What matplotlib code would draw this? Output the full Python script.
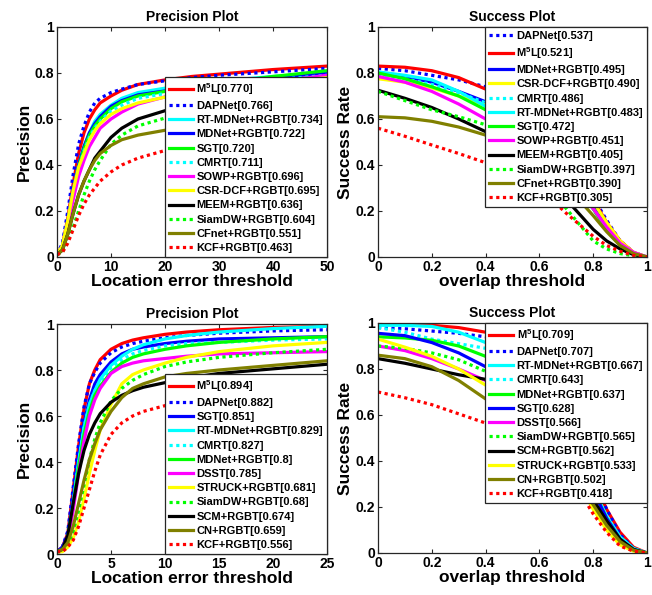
import numpy as np
import matplotlib
matplotlib.use('Agg')
import matplotlib.pyplot as plt
from matplotlib.ticker import FuncFormatter

plt.rcParams['font.family'] = ['Liberation Sans', 'DejaVu Sans']
plt.rcParams['font.weight'] = 'bold'
plt.rcParams['mathtext.fontset'] = 'custom'
plt.rcParams['mathtext.bf'] = 'Liberation Sans:bold'
plt.rcParams['mathtext.rm'] = 'Liberation Sans:bold'
plt.rcParams['mathtext.default'] = 'bf'

# colours / line styles per tracker
RED, BLUE, CYAN, GREEN = '#FF0000', '#0000FF', '#00FFFF', '#00FF00'
MAG, YEL, BLK, OLV = '#FF00FF', '#FFFF00', '#000000', '#808000'
M5L = r'M$^5$L'

# ---------------- top row: precision (0..50) ----------------
prec1_x = [0, 1, 2, 3, 4, 5, 6, 7, 8, 10, 12, 15, 20, 25, 30, 40, 50]
prec1_names = [M5L + '[0.770]', 'DAPNet[0.766]', 'RT-MDNet+RGBT[0.734]', 'MDNet+RGBT[0.722]',
               'SGT[0.720]', 'CMRT[0.711]', 'SOWP+RGBT[0.696]', 'CSR-DCF+RGBT[0.695]',
               'MEEM+RGBT[0.636]', 'SiamDW+RGBT[0.604]', 'CFnet+RGBT[0.551]', 'KCF+RGBT[0.463]']
prec1_styles = [(RED, '-'), (BLUE, ':'), (CYAN, '-'), (BLUE, '-'), (GREEN, '-'), (CYAN, ':'),
                (MAG, '-'), (YEL, '-'), (BLK, '-'), (GREEN, ':'), (OLV, '-'), (RED, ':')]
prec1_m5l = [.01, .05, .17, .32, .45, .54, .60, .64, .67, .70, .725, .75, .770, .785, .795, .815, .83]
prec1_dapnet = [.01, .06, .20, .36, .49, .57, .63, .67, .69, .715, .73, .75, .766, .78, .79, .805, .82]
prec1_rtmdnet = [.01, .04, .15, .29, .40, .48, .54, .59, .62, .66, .69, .715, .734, .75, .765, .785, .80]
prec1_mdnet = [.01, .04, .15, .29, .40, .48, .54, .58, .61, .655, .68, .705, .722, .74, .755, .78, .80]
prec1_sgt = [.01, .04, .14, .28, .39, .47, .53, .57, .60, .645, .675, .70, .720, .74, .755, .785, .81]
prec1_cmrt = [.01, .04, .14, .27, .38, .46, .52, .56, .59, .635, .66, .69, .711, .73, .745, .77, .79]
prec1_sowp = [.01, .04, .13, .25, .35, .42, .48, .52, .56, .60, .63, .665, .696, .715, .73, .76, .79]
prec1_csrdcf = [.01, .05, .16, .29, .39, .45, .51, .55, .58, .62, .645, .67, .695, .715, .73, .755, .78]
prec1_meem = [.01, .03, .10, .19, .27, .33, .38, .43, .46, .52, .56, .60, .636, .655, .67, .70, .73]
prec1_siamdw = [.01, .02, .07, .13, .20, .27, .33, .38, .42, .49, .53, .57, .604, .62, .635, .655, .67]
prec1_cfnet = [.01, .03, .10, .19, .27, .33, .38, .42, .45, .485, .51, .53, .551, .565, .575, .59, .60]
prec1_kcf = [.01, .02, .06, .12, .18, .23, .27, .30, .33, .37, .40, .43, .463, .49, .51, .55, .58]
prec1_y = [prec1_m5l, prec1_dapnet, prec1_rtmdnet, prec1_mdnet, prec1_sgt, prec1_cmrt,
           prec1_sowp, prec1_csrdcf, prec1_meem, prec1_siamdw, prec1_cfnet, prec1_kcf]

# ---------------- top row: success ----------------
succ_x = [0, .1, .2, .3, .4, .5, .6, .7, .8, .85, .9, .95, 1]
succ1_names = ['DAPNet[0.537]', M5L + '[0.521]', 'MDNet+RGBT[0.495]', 'CSR-DCF+RGBT[0.490]',
               'CMRT[0.486]', 'RT-MDNet+RGBT[0.483]', 'SGT[0.472]', 'SOWP+RGBT[0.451]',
               'MEEM+RGBT[0.405]', 'SiamDW+RGBT[0.397]', 'CFnet+RGBT[0.390]', 'KCF+RGBT[0.305]']
succ1_styles = [(BLUE, ':'), (RED, '-'), (BLUE, '-'), (YEL, '-'), (CYAN, ':'), (CYAN, '-'),
                (GREEN, '-'), (MAG, '-'), (BLK, '-'), (GREEN, ':'), (OLV, '-'), (RED, ':')]
succ1_dapnet = [.82, .81, .79, .77, .74, .69, .60, .46, .26, .16, .07, .02, 0]
succ1_m5l = [.83, .825, .81, .78, .73, .67, .58, .44, .25, .15, .07, .02, 0]
succ1_mdnet = [.80, .785, .76, .72, .675, .61, .52, .39, .22, .13, .06, .015, 0]
succ1_csrdcf = [.775, .76, .735, .70, .66, .60, .52, .40, .24, .15, .07, .02, 0]
succ1_cmrt = [.79, .775, .75, .715, .67, .60, .51, .38, .21, .12, .055, .015, 0]
succ1_rtmdnet = [.805, .79, .77, .72, .655, .59, .50, .37, .21, .12, .055, .015, 0]
succ1_sgt = [.80, .775, .74, .70, .64, .57, .49, .37, .21, .12, .05, .015, 0]
succ1_sowp = [.785, .76, .72, .665, .60, .53, .46, .35, .21, .13, .06, .02, 0]
succ1_meem = [.725, .69, .65, .60, .545, .48, .38, .25, .12, .07, .035, .01, 0]
succ1_siamdw = [.72, .68, .64, .61, .575, .50, .37, .21, .07, .035, .015, .005, 0]
succ1_cfnet = [.61, .605, .59, .565, .53, .48, .41, .31, .18, .11, .05, .015, 0]
succ1_kcf = [.56, .525, .487, .45, .41, .36, .30, .19, .09, .05, .025, .007, 0]
succ1_y = [succ1_dapnet, succ1_m5l, succ1_mdnet, succ1_csrdcf, succ1_cmrt, succ1_rtmdnet,
           succ1_sgt, succ1_sowp, succ1_meem, succ1_siamdw, succ1_cfnet, succ1_kcf]

# ---------------- bottom row: precision (0..25) ----------------
prec2_x = [0, .5, 1, 1.5, 2, 2.5, 3, 3.5, 4, 5, 6, 7, 8, 10, 12, 15, 20, 25]
prec2_names = [M5L + '[0.894]', 'DAPNet[0.882]', 'SGT[0.851]', 'RT-MDNet+RGBT[0.829]',
               'CMRT[0.827]', 'MDNet+RGBT[0.8]', 'DSST[0.785]', 'STRUCK+RGBT[0.681]',
               'SiamDW+RGBT[0.68]', 'SCM+RGBT[0.674]', 'CN+RGBT[0.659]', 'KCF+RGBT[0.556]']
prec2_styles = [(RED, '-'), (BLUE, ':'), (BLUE, '-'), (CYAN, '-'), (CYAN, ':'), (GREEN, '-'),
                (MAG, '-'), (YEL, '-'), (GREEN, ':'), (BLK, '-'), (OLV, '-'), (RED, ':')]
prec2_m5l = [.01, .03, .09, .28, .47, .63, .74, .80, .845, .89, .915, .93, .94, .955, .965, .975, .985, .99]
prec2_dapnet = [.01, .03, .10, .29, .48, .64, .74, .79, .83, .875, .90, .915, .925, .94, .95, .96, .97, .975]
prec2_sgt = [.01, .03, .08, .25, .43, .57, .67, .74, .78, .835, .87, .89, .90, .915, .925, .935, .94, .945]
prec2_rtmdnet = [.01, .02, .07, .22, .40, .55, .65, .71, .76, .82, .86, .89, .91, .935, .95, .965, .98, .99]
prec2_cmrt = [.01, .02, .07, .22, .40, .55, .65, .71, .75, .81, .845, .87, .885, .905, .915, .92, .93, .935]
prec2_mdnet = [.01, .02, .07, .21, .38, .52, .62, .69, .73, .79, .83, .855, .87, .89, .905, .92, .935, .945]
prec2_dsst = [.01, .02, .06, .19, .35, .49, .60, .67, .72, .785, .815, .83, .84, .85, .86, .87, .875, .88]
prec2_struck = [.01, .01, .03, .07, .14, .24, .35, .45, .54, .65, .74, .78, .80, .83, .855, .88, .905, .92]
prec2_siamdw = [.01, .01, .04, .10, .19, .30, .41, .50, .57, .665, .72, .755, .78, .815, .835, .855, .875, .89]
prec2_scm = [.01, .02, .08, .22, .35, .45, .52, .57, .61, .66, .69, .71, .725, .745, .765, .785, .805, .825]
prec2_cn = [.01, .02, .05, .12, .22, .32, .41, .48, .54, .62, .68, .72, .74, .77, .785, .80, .82, .84]
prec2_kcf = [.01, .01, .03, .06, .12, .20, .28, .36, .43, .52, .57, .60, .62, .645, .66, .675, .69, .70]
prec2_y = [prec2_m5l, prec2_dapnet, prec2_sgt, prec2_rtmdnet, prec2_cmrt, prec2_mdnet,
           prec2_dsst, prec2_struck, prec2_siamdw, prec2_scm, prec2_cn, prec2_kcf]

# ---------------- bottom row: success ----------------
succ2_names = [M5L + '[0.709]', 'DAPNet[0.707]', 'RT-MDNet+RGBT[0.667]', 'CMRT[0.643]',
               'MDNet+RGBT[0.637]', 'SGT[0.628]', 'DSST[0.566]', 'SiamDW+RGBT[0.565]',
               'SCM+RGBT[0.562]', 'STRUCK+RGBT[0.533]', 'CN+RGBT[0.502]', 'KCF+RGBT[0.418]']
succ2_styles = [(RED, '-'), (BLUE, ':'), (CYAN, '-'), (CYAN, ':'), (GREEN, '-'), (BLUE, '-'),
                (MAG, '-'), (GREEN, ':'), (BLK, '-'), (YEL, '-'), (OLV, '-'), (RED, ':')]
succ2_m5l = [.995, .995, .99, .98, .96, .90, .80, .60, .32, .19, .09, .025, 0]
succ2_dapnet = [.98, .975, .965, .955, .94, .88, .78, .60, .33, .19, .08, .02, 0]
succ2_rtmdnet = [.99, .99, .985, .96, .915, .84, .73, .54, .28, .16, .07, .02, 0]
succ2_cmrt = [.98, .96, .93, .91, .89, .82, .72, .53, .27, .15, .06, .015, 0]
succ2_mdnet = [.94, .935, .925, .90, .855, .79, .69, .52, .27, .15, .06, .015, 0]
succ2_sgt = [.955, .945, .915, .87, .81, .76, .67, .51, .27, .15, .06, .015, 0]
succ2_dsst = [.90, .88, .845, .80, .75, .68, .59, .44, .23, .13, .05, .012, 0]
succ2_siamdw = [.90, .89, .87, .84, .79, .70, .60, .44, .23, .13, .05, .012, 0]
succ2_scm = [.845, .825, .80, .775, .755, .70, .60, .44, .23, .14, .06, .015, 0]
succ2_struck = [.93, .895, .855, .80, .73, .65, .56, .40, .19, .10, .035, .008, 0]
succ2_cn = [.86, .845, .81, .75, .67, .60, .52, .40, .21, .12, .05, .012, 0]
succ2_kcf = [.70, .675, .645, .605, .565, .50, .45, .36, .17, .09, .03, .008, 0]
succ2_y = [succ2_m5l, succ2_dapnet, succ2_rtmdnet, succ2_cmrt, succ2_mdnet, succ2_sgt,
           succ2_dsst, succ2_siamdw, succ2_scm, succ2_struck, succ2_cn, succ2_kcf]


fig = plt.figure(figsize=(6.52, 5.95), dpi=100)
W, H = 652.0, 595.0


def panel(rect, x, ys, names, styles, title, xlabel, ylabel, xmax, xticks, leg_loc):
    l, t, r, b = rect
    ax = fig.add_axes([l / W, 1 - b / H, (r - l) / W, (b - t) / H])
    handles = []
    for y, name, (c, ls) in zip(ys, names, styles):
        if ls == ':':
            h, = ax.plot(x, y, color=c, lw=2.3, linestyle=(0, (1, 1.1)), label=name)
        else:
            h, = ax.plot(x, y, color=c, lw=2.3, label=name)
        handles.append(h)
    ax.set_xlim(0, xmax)
    ax.set_ylim(0, 1)
    ax.set_xticks(xticks)
    ax.set_yticks([0, .2, .4, .6, .8, 1])
    fmt = FuncFormatter(lambda v, p: '%g' % v)
    ax.xaxis.set_major_formatter(fmt)
    ax.yaxis.set_major_formatter(fmt)
    ax.tick_params(direction='in', length=3, width=0.8, labelsize=10, pad=2,
                   top=True, right=True, color='#262626')
    for s in ax.spines.values():
        s.set_linewidth(0.9)
        s.set_color('#262626')
    ax.set_title(title, fontsize=10, fontweight='bold', pad=4)
    ax.set_xlabel(xlabel, fontsize=12.5, fontweight='bold', labelpad=0)
    ax.set_ylabel(ylabel, fontsize=12.5, fontweight='bold', labelpad=2)
    leg = ax.legend(handles=handles, loc=leg_loc, borderaxespad=0, fontsize=8,
                    fancybox=False, framealpha=1, edgecolor='#262626',
                    handlelength=2.2, handletextpad=0.3, labelspacing=0.38,
                    borderpad=0.35)
    leg.get_frame().set_linewidth(0.9)
    return ax


panel((57, 27, 327, 257), prec1_x, prec1_y, prec1_names, prec1_styles,
      'Precision Plot', 'Location error threshold', 'Precision', 50,
      [0, 10, 20, 30, 40, 50], 'lower right')
panel((378, 27, 647, 257), succ_x, succ1_y, succ1_names, succ1_styles,
      'Success Plot', 'overlap threshold', 'Success Rate', 1,
      [0, .2, .4, .6, .8, 1], 'upper right')
panel((57, 324, 327, 554), prec2_x, prec2_y, prec2_names, prec2_styles,
      'Precision Plot', 'Location error threshold', 'Precision', 25,
      [0, 5, 10, 15, 20, 25], 'lower right')
panel((378, 323, 647, 553), succ_x, succ2_y, succ2_names, succ2_styles,
      'Success Plot', 'overlap threshold', 'Success Rate', 1,
      [0, .2, .4, .6, .8, 1], 'upper right')

fig.savefig('out.png', dpi=100)
